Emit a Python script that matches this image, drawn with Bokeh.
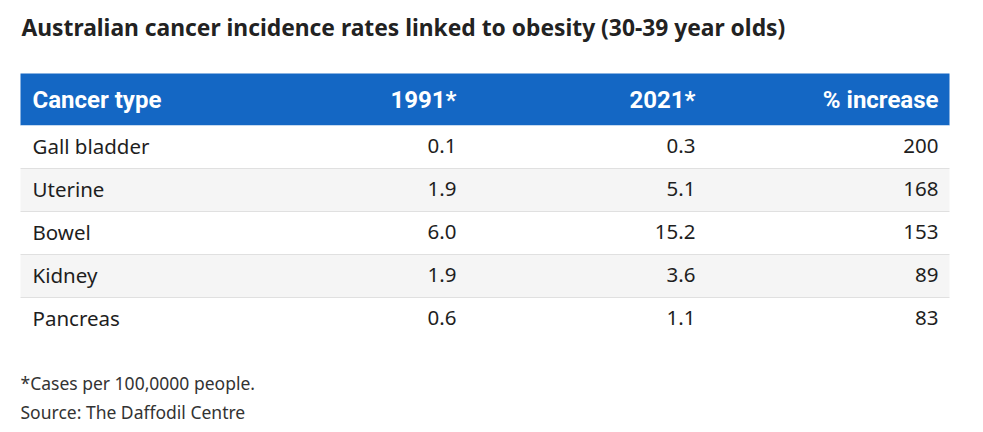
from bokeh.plotting import figure
from bokeh.models import Range1d, ColumnDataSource
from bokeh.core.properties import value
from bokeh.embed import file_html
from bokeh.resources import INLINE

# ---- data ----
title_text = "Australian cancer incidence rates linked to obesity (30-39 year olds)"
headers = ["Cancer type", "1991*", "2021*", "% increase"]
cancer_types = ["Gall bladder", "Uterine", "Bowel", "Kidney", "Pancreas"]
rate_1991 = [0.1, 1.9, 6.0, 1.9, 0.6]
rate_2021 = [0.3, 5.1, 15.2, 3.6, 1.1]
pct_increase = [200, 168, 153, 89, 83]
notes = ["*Cases per 100,0000 people.", "Source: The Daffodil Centre"]

# ---- layout ----
W, H = 983, 432
left, right = 20, 949
head_top, head_h = 73, 52
row_h = 43
col_right = [None, 456, 695, 938]
col_left0 = 32

p = figure(width=W, height=H, output_backend="svg", toolbar_location=None,
           x_range=Range1d(0, W), y_range=Range1d(H, 0), min_border=0)
p.axis.visible = False
p.grid.visible = False
p.outline_line_color = None
p.background_fill_color = "white"
p.border_fill_color = "white"

BODY = value("Noto Sans")
HEAD = value("Roboto")

# title
p.text(x=[21], y=[27], text=[title_text], text_font=BODY, text_font_style="bold",
       text_font_size="22.8px", text_color="#222222", text_baseline="middle", text_align="left")

# header bar
p.quad(left=[left], right=[right], top=[head_top], bottom=[head_top + head_h],
       fill_color="#1467c4", line_color=None)
hy = head_top + head_h / 2
p.text(x=[col_left0], y=[hy], text=[headers[0]], text_font=HEAD, text_font_style="bold",
       text_font_size="24px", text_color="white", text_baseline="middle", text_align="left")
p.text(x=col_right[1:], y=[hy] * 3, text=headers[1:], text_font=HEAD, text_font_style="bold",
       text_font_size="24px", text_color="white", text_baseline="middle", text_align="right")

# rows
n = len(cancer_types)
tops = [head_top + head_h + i * row_h for i in range(n)]
centers = [t + row_h / 2 - 1 for t in tops]
fills = ["white" if i % 2 == 0 else "#f5f5f5" for i in range(n)]
p.quad(left=[left] * n, right=[right] * n, top=tops, bottom=[t + row_h for t in tops],
       fill_color=fills, line_color=None)
seps = [t + row_h for t in tops[:-1]]
p.segment(x0=[left] * len(seps), x1=[right] * len(seps), y0=seps, y1=seps,
          line_color="#e0e0e0", line_width=1)

src = ColumnDataSource(dict(
    y=centers,
    name=cancer_types,
    a=[f"{v:.1f}" for v in rate_1991],
    b=[f"{v:.1f}" for v in rate_2021],
    c=[str(v) for v in pct_increase],
))
common = dict(text_font=BODY, text_font_size="20.5px", text_color="#1e1e1e", text_baseline="middle")
p.text(x=col_left0, y="y", text="name", source=src, text_align="left", **common)
p.text(x=col_right[1], y="y", text="a", source=src, text_align="right", **common)
p.text(x=col_right[2], y="y", text="b", source=src, text_align="right", **common)
p.text(x=col_right[3], y="y", text="c", source=src, text_align="right", **common)

# footnotes
p.text(x=[20, 20], y=[382, 411], text=notes, text_font=BODY, text_font_size="17.5px",
       text_color="#333333", text_baseline="middle", text_align="left")

open("out.html", "w").write(file_html(p, INLINE))
